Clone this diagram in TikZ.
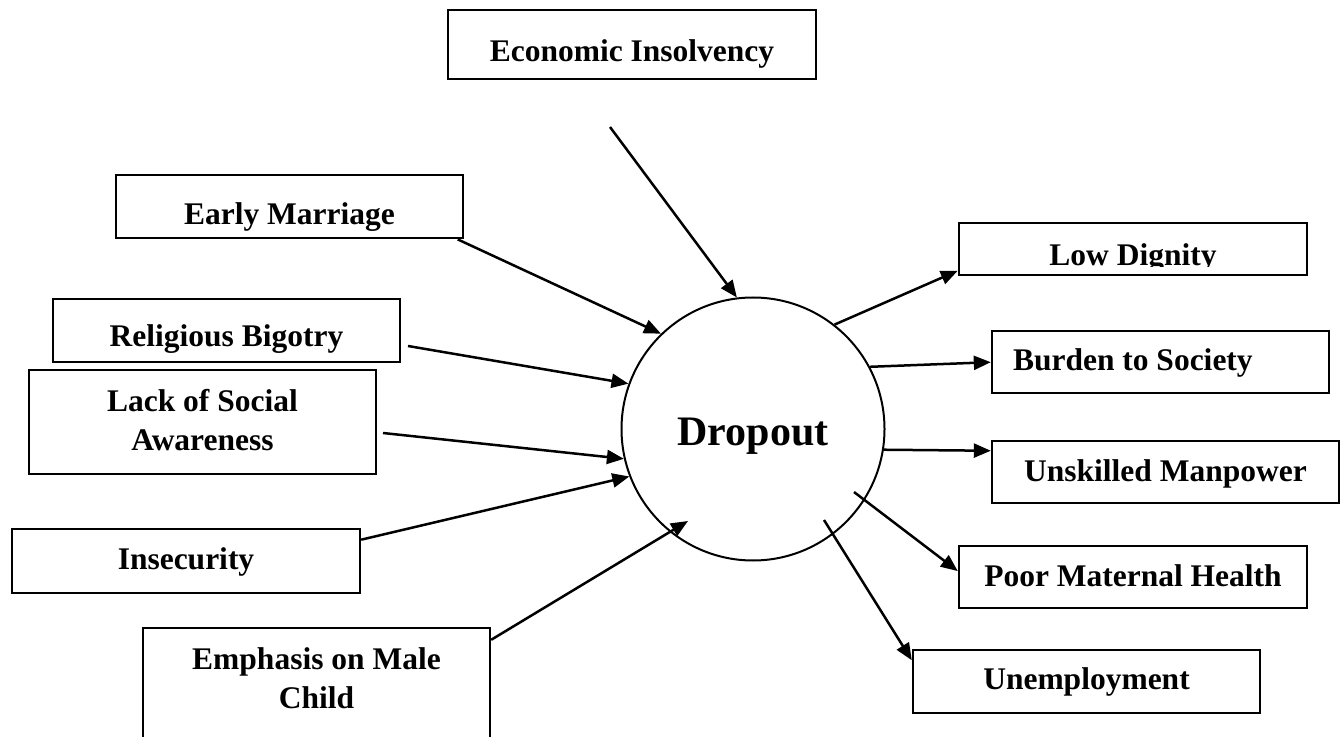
\documentclass[tikz,border=0pt]{standalone}
\usepackage{fontspec}
\setmainfont{Liberation Serif}
\usetikzlibrary{arrows.meta}
\newcommand{\boxfont}{\bfseries\fontsize{15.75}{19.5}\selectfont}
\newcommand{\boxtext}[4][20pt]{\parbox[t][#3][t]{#2}{\centering\rule{0pt}{#1}#4}}

\begin{document}
\begin{tikzpicture}[x=0.5pt, y=-0.5pt,
		box/.style={draw, line width=1.2pt, inner sep=0pt, anchor=north, font=\boxfont},
		arr/.style={-{Triangle[length=8.5pt,width=7pt]}, line width=1.25pt}]
		\clip (0,0) rectangle (1344,737);

		\node[circle, draw, line width=1pt, minimum size=131.5pt, inner sep=0pt, text height=16pt, text depth=0pt,
			font=\bfseries\fontsize{21}{25}\selectfont] (drop) at (753,429) {Dropout};

		% causes
		\node[box] (eco) at (632,9) {\boxtext[25.5pt]{184pt}{34.5pt}{Economic Insolvency}};
		\node[box] (early) at (289.5,174) {\boxtext[24.5pt]{173.5pt}{31.5pt}{Early Marriage}};
		\node[box] (relig) at (226.5,298) {\boxtext[23.5pt]{173.5pt}{31.5pt}{Religious Bigotry}};
		\node[box] (lack) at (202.5,369) {\boxtext[20.5pt]{173.5pt}{52pt}{Lack of Social\\Awareness}};
		\node[box] (insec) at (186,528) {\boxtext{174pt}{32pt}{Insecurity}};
		\node[box] (male) at (316.5,627) {\boxtext[20.5pt]{173.5pt}{65pt}{Emphasis on Male\\Child}};

		% effects
		\node[box, path picture={
				\clip ([yshift=4.5pt]path picture bounding box.south west) rectangle (path picture bounding box.north east);
				\node[anchor=north, inner sep=0pt, font=\boxfont] (lowtext) at (path picture bounding box.north)
					{\boxtext[20.5pt]{174pt}{26pt}{Low Dignity}};}] (low) at (1133,222) {\boxtext{174pt}{26pt}{}};
		\node[box] (burden) at (1160.5,330) {\parbox[t][31pt][t]{168.5pt}{\raggedright\rule{0pt}{19.5pt}\hspace*{10.5pt}Burden to Society}};
		\node[box] (unskill) at (1165.5,440) {\boxtext{173.5pt}{31pt}{Unskilled Manpower}};
		\node[box] (poor) at (1133,545) {\boxtext{174pt}{31pt}{Poor Maternal Health}};
		\node[box] (unemp) at (1086.5,649) {\boxtext[19.5pt]{173.5pt}{31.5pt}{Unemployment}};

		\coordinate (ecoS) at (610,127);
		\coordinate (religS) at (408,346);
		\coordinate (lackS) at (383,433);
		\coordinate (maleE) at (688,521);
		\coordinate (poorS) at (854,492);
		\coordinate (unempS) at (824,520);

		\draw[arr] (ecoS) -- (drop.97);
		\draw[arr] (early.-11) -- (drop.134);
		\draw[arr] (religS) -- (drop.160);
		\draw[arr] (lackS) -- (drop.193);
		\draw[arr] (insec.7) -- (drop.201);
		\draw[arr] (male.17.6) -- (maleE);

		\draw[arr] (drop.52) -- (low.187);
		\draw[arr] (drop.28) -- (burden.west);
		\draw[arr] (drop.-9) -- (unskill.173);
		\draw[arr] (poorS) -- (poor.178);
		\draw[arr] (unempS) -- (unemp.173);
	\end{tikzpicture}
\end{document}
